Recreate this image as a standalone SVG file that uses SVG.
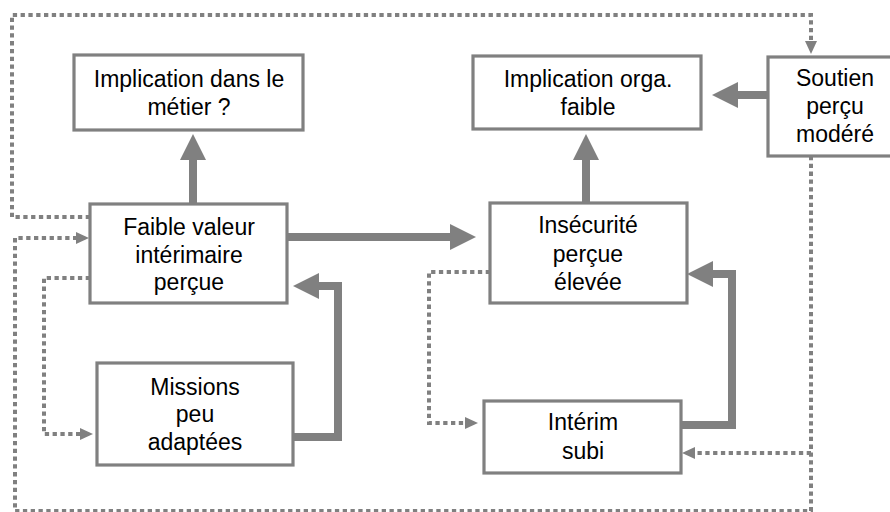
<svg xmlns="http://www.w3.org/2000/svg" width="890" height="512" viewBox="0 0 890 512">
<style>
.box{fill:#fff;stroke:#808080;stroke-width:3.2}
.t{font-family:"Liberation Sans",Arial,sans-serif;font-size:23px;fill:#000;text-anchor:middle}
.thick{fill:none;stroke:#808080;stroke-width:8;marker-end:url(#big)}
.thin{fill:none;stroke:#808080;stroke-width:4;stroke-dasharray:4.3 3.5;marker-end:url(#small)}
</style>
<defs>
<marker id="big" viewBox="0 0 26 26" refX="0" refY="13" markerWidth="26" markerHeight="26" markerUnits="userSpaceOnUse" orient="auto">
<path d="M0,0 L26,13 L0,26 z" fill="#808080"/>
</marker>
<marker id="small" viewBox="0 0 13 12" refX="0" refY="6" markerWidth="13" markerHeight="12" markerUnits="userSpaceOnUse" orient="auto">
<path d="M0,0 L13,6 L0,12 z" fill="#808080"/>
</marker>
</defs>
<rect width="890" height="512" fill="#fff"/>
<g id="connectors">
<path class="thick" d="M193,204 V160"/>
<path class="thick" d="M586,203 V160"/>
<path class="thick" d="M287,237 H450"/>
<path class="thick" d="M293,437 H338 V286 H319"/>
<path class="thick" d="M681,425 H732 V274 H713"/>
<path class="thick" d="M768,95 H738"/>
<path class="thin" d="M90,217 H12 V15 H811 V41"/>
<path class="thin" d="M811,156 V511 H15 V238 H76"/>
<path class="thin" d="M811,453 H695"/>
<path class="thin" d="M90,278 H44 V434 H80"/>
<path class="thin" d="M490,272 H429 V423 H465"/>
</g>
<g id="n_metier">
<rect class="box" x="74" y="55" width="229" height="75"/>
<text class="t" x="189" y="87">Implication dans le</text>
<text class="t" x="189" y="115">métier ?</text>
</g>
<g id="n_orga">
<rect class="box" x="473" y="56" width="228" height="73"/>
<text class="t" x="588" y="87">Implication orga.</text>
<text class="t" x="588" y="115">faible</text>
</g>
<g id="n_soutien">
<rect class="box" x="768" y="57" width="130" height="99"/>
<text class="t" x="835" y="86">Soutien</text>
<text class="t" x="835" y="114">perçu</text>
<text class="t" x="835" y="142">modéré</text>
</g>
<g id="n_faible">
<rect class="box" x="90" y="204" width="197" height="99"/>
<text class="t" x="189" y="235">Faible valeur</text>
<text class="t" x="189" y="263">intérimaire</text>
<text class="t" x="189" y="290">perçue</text>
</g>
<g id="n_insecurite">
<rect class="box" x="490" y="203" width="197" height="100"/>
<text class="t" x="588" y="233">Insécurité</text>
<text class="t" x="588" y="262">perçue</text>
<text class="t" x="588" y="290">élevée</text>
</g>
<g id="n_missions">
<rect class="box" x="97" y="363" width="196" height="102"/>
<text class="t" x="195" y="395">Missions</text>
<text class="t" x="195" y="422">peu</text>
<text class="t" x="195" y="450">adaptées</text>
</g>
<g id="n_interim">
<rect class="box" x="484" y="401" width="197" height="72"/>
<text class="t" x="583" y="430">Intérim</text>
<text class="t" x="583" y="459">subi</text>
</g>
</svg>
